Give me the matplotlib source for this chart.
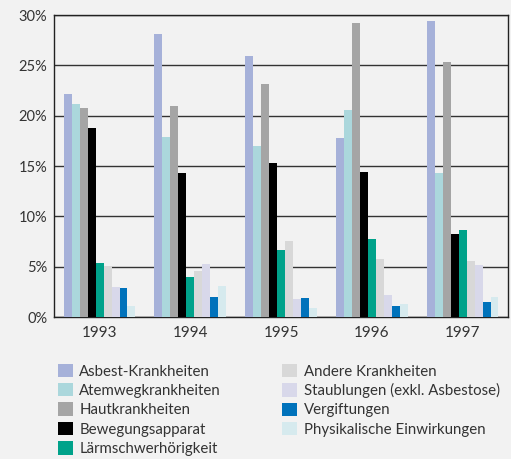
import numpy as np
import matplotlib.pyplot as plt
from matplotlib.patches import Patch
from matplotlib.ticker import FuncFormatter

plt.rcParams['font.family'] = ['Lato', 'DejaVu Sans']

years = ['1993', '1994', '1995', '1996', '1997']
categories = ['Asbest-Krankheiten', 'Atemwegkrankheiten', 'Hautkrankheiten',
              'Bewegungsapparat', 'Lärmschwerhörigkeit', 'Andere Krankheiten',
              'Staublungen (exkl. Asbestose)', 'Vergiftungen',
              'Physikalische Einwirkungen']
colors = ['#a6b1d9', '#abd7dc', '#a5a5a5', '#000000', '#00a28a',
          '#d8d8d8', '#d8d8ea', '#0072bb', '#d6eaee']

# share in percent, one list per category (1993..1997)
asbest = [22.2, 28.1, 25.9, 17.8, 29.4]
atemweg = [21.2, 17.9, 17.0, 20.6, 14.3]
haut = [20.8, 21.0, 23.2, 29.2, 25.3]
bewegung = [18.75, 14.3, 15.3, 14.4, 8.3]
laerm = [5.4, 4.0, 6.65, 7.8, 8.7]
andere = [5.05, 4.6, 7.6, 5.8, 5.6]
staub = [3.0, 5.3, 1.8, 2.25, 5.2]
vergift = [2.9, 2.0, 1.9, 1.1, 1.5]
physik = [1.15, 3.1, 0.95, 1.35, 2.05]
series = [asbest, atemweg, haut, bewegung, laerm, andere, staub, vergift, physik]

bg = '#f2f2f2'
fig = plt.figure(figsize=(5.11, 4.59), dpi=100, facecolor=bg)
ax = fig.add_axes([0.106, 0.309, 0.888, 0.658], facecolor=bg)

x = np.arange(len(years))
w = 0.088
for i, (vals, c) in enumerate(zip(series, colors)):
    ax.bar(x + (i - 4) * w, vals, width=w, color=c, zorder=3)

ax.set_xlim(-0.5, 4.5)
ax.set_ylim(0, 30)
ax.set_yticks(range(0, 31, 5))
ax.yaxis.set_major_formatter(FuncFormatter(lambda v, p: f'{v:.0f}%'))
ax.set_xticks(x)
ax.set_xticklabels(years)
ax.grid(axis='y', color='#333333', linewidth=1.0, zorder=0)
ax.tick_params(length=0, labelsize=10.5, colors='#333333', pad=5)
ax.tick_params(axis='x', pad=6, labelsize=11)
for s in ax.spines.values():
    s.set_color('#222222')
    s.set_linewidth(1.0)

handles = [Patch(facecolor=c, edgecolor='none') for c in colors]
fig.legend(handles, categories, ncol=2, loc='upper left',
           bbox_to_anchor=(0.098, 0.224), frameon=False, fontsize=10.8,
           handlelength=1.0, handleheight=1.0, handletextpad=0.45,
           labelspacing=0.3, columnspacing=4.05, borderpad=0,
           labelcolor='#333333')

fig.savefig('out.png', dpi=100, facecolor=bg)
